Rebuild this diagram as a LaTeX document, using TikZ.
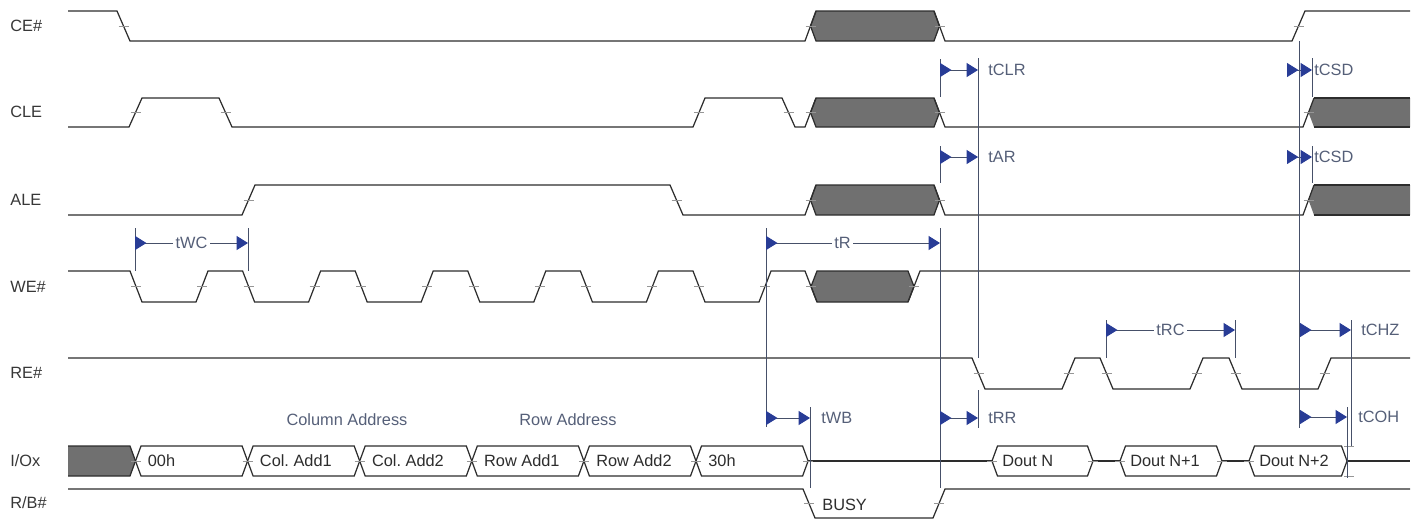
\documentclass[tikz,border=0pt]{standalone}
\usepackage{fontspec}
\setmainfont{Liberation Sans}
\usetikzlibrary{arrows.meta}
\definecolor{sigcol}{RGB}{45,45,45}
\definecolor{dcgray}{RGB}{112,112,112}
\definecolor{tcol}{RGB}{70,80,105}
\definecolor{tipcol}{RGB}{40,60,150}
\definecolor{namecol}{RGB}{55,55,55}
\definecolor{tlabcol}{RGB}{85,95,120}
\definecolor{tickcol}{RGB}{150,150,150}
\begin{document}
\begin{tikzpicture}[x=0.02cm,y=-0.02cm,font=\fontsize{9.3}{10}\selectfont\frenchspacing]
	\tikzset{sig/.style = {draw=sigcol,line width=0.7pt}}
	\tikzset{dontcare/.style = {fill=dcgray,draw=sigcol,line width=0.7pt}}
	\tikzset{bus/.style = {fill=white,draw=sigcol,line width=0.7pt}}
	\tikzset{tmark/.style = {draw=tcol,line width=0.5pt}}
	\tikzset{tarrow/.style = {tmark,{Triangle[reversed,length=6.5pt,width=8pt,color=tipcol]}-{Triangle[length=6.5pt,width=8pt,color=tipcol]}}}
	\tikzset{sname/.style = {anchor=west,text=namecol,inner sep=0pt}}
	\tikzset{tname/.style = {anchor=west,text=tlabcol,inner sep=0pt}}
	\tikzset{tmid/.style = {fill=white,text=tlabcol,inner sep=1.5pt}}
	\tikzset{ticky/.style = {draw=tickcol,line width=0.4pt}}
	\useasboundingbox (0,0) rectangle (1418,522);
	% signal names
	\node[sname] (ce)  at (10,26)  {CE\#};
	\node[sname] (cle) at (10,112) {CLE};
	\node[sname] (ale) at (10,200) {ALE};
	\node[sname] (we)  at (10,287) {WE\#};
	\node[sname] (re)  at (10,373) {RE\#};
	\node[sname] (io)  at (10,461) {I/Ox};
	\node[sname] (rb)  at (10,503) {R/B\#};
	% don't care boxes
	\foreach \yt/\yb in {11/41,98/127,185/215}
		\path[dontcare] (810.5,{(\yt+\yb)/2}) -- (816,\yt) -- (934,\yt) -- (939.5,{(\yt+\yb)/2}) -- (934,\yb) -- (816,\yb) -- cycle;
	\foreach \yt/\yb in {98/127,185/215} {
		\fill[dcgray] (1308.5,{(\yt+\yb)/2}) -- (1314,\yt) -- (1410,\yt) -- (1410,\yb) -- (1314,\yb) -- cycle;
		\draw[sig] (1410,\yt) -- (1314,\yt) (1314,\yb) -- (1410,\yb);
	}
	\path[dontcare] (811,286.5) -- (817,271) -- (908,271) -- (914,286.5) -- (908,302) -- (817,302) -- cycle;
	\fill[dcgray] (68,446) -- (130,446) -- (135.5,461) -- (130,476) -- (68,476) -- cycle;
	\draw[sig] (68,446) -- (130,446) -- (135.5,461) -- (130,476) -- (68,476);
	% waveforms
	\draw[sig] (68,11) -- (117,11) -- (130,41) -- (805,41) -- (816,11);
	\draw[sig] (934,11) -- (945,41) -- (1292,41) -- (1305,11) -- (1410,11);
	\draw[sig] (68,127) -- (129,127) -- (142,98) -- (219,98) -- (232,127) -- (693,127) -- (705,98) -- (782,98) -- (795,127) -- (805,127) -- (816,98);
	\draw[sig] (934,98) -- (945,127) -- (1303,127) -- (1314,98);
	\draw[sig] (68,215) -- (242,215) -- (255,185) -- (670,185) -- (683,215) -- (805,215) -- (816,185);
	\draw[sig] (934,185) -- (945,215) -- (1303,215) -- (1314,185);
	\draw[sig] (68,271) foreach \k in {0,...,5} { -- ({130+112.6*\k},271) -- ({142+112.6*\k},302) -- ({196+112.6*\k},302) -- ({208+112.6*\k},271) } -- (805,271) -- (817,302);
	\draw[sig] (908,302) -- (920,271) -- (1410,271);
	\draw[sig] (68,358) -- (972,358) -- (985,389) -- (1062,389) -- (1075,358) -- (1100,358) -- (1113,389) -- (1190,389) -- (1203,358) -- (1229,358) -- (1242,389) -- (1318,389) -- (1331,358) -- (1410,358);
	\draw[sig] (808,461) -- (1410,461);
	\foreach \k/\txt in {0/00h,1/Col. Add1,2/Col. Add2,3/Row Add1,4/Row Add2,5/30h} {
		\path[bus] ({135.5+112.1*\k},461) -- ({141+112.1*\k},446) -- ({242.1+112.1*\k},446) -- ({247.6+112.1*\k},461) -- ({242.1+112.1*\k},476) -- ({141+112.1*\k},476) -- cycle;
		\node[sname,text=sigcol] (d\k) at ({147.5+112.1*\k},461) {\txt};
	}
	\foreach \xa/\xb/\txt [count=\n] in {992/1093/Dout N,1120/1222/Dout N+1,1249/1347/Dout N+2} {
		\path[bus] (\xa,461) -- (\xa+5.5,446) -- (\xb-5.5,446) -- (\xb,461) -- (\xb-5.5,476) -- (\xa+5.5,476) -- cycle;
		\node[sname,text=sigcol] (dout\n) at (\xa+10,461) {\txt};
	}
	\draw[sig] (68,489) -- (803,489) -- (815,518) -- (933,518) -- (945,489) -- (1410,489);
	\node[sname,text=sigcol] (busy) at (822,505) {BUSY};
	\node[text=tlabcol] (coladdr) at (347,420) {Column Address};
	\node[text=tlabcol] (rowaddr) at (568,420) {Row Address};
	% transition ticks
	\foreach \x/\y in {123.5/26,810.5/26,939.5/26,1298.5/26,
		135.5/112.5,225.5/112.5,699/112.5,788.5/112.5,810.5/112.5,939.5/112.5,1308.5/112.5,
		248.5/200,676.5/200,810.5/200,939.5/200,1308.5/200,811/286.5,914/286.5,
		978.5/373.5,1068.5/373.5,1106.5/373.5,1196.5/373.5,1235.5/373.5,1324.5/373.5,
		992/461,1093/461,1120/461,1222/461,1249/461,1349/446,1349/476,809/503.5,939/503.5}
		\draw[ticky] (\x-5,\y) -- (\x+5,\y);
	\foreach \k in {0,...,5} {
		\draw[ticky] ({131+112.6*\k},286.5) -- ({141+112.6*\k},286.5);
		\draw[ticky] ({197+112.6*\k},286.5) -- ({207+112.6*\k},286.5);
	}
	\foreach \k in {0,...,6}
		\draw[ticky] ({130.5+112.1*\k},461) -- ({140.5+112.1*\k},461);
	% timing marks
	\draw[tmark] (135,228) -- (135,271);
	\draw[tmark] (248,228) -- (248,271);
	\draw[tmark] (766,228) -- (766,427);
	\draw[tmark] (940,228) -- (940,488);
	\draw[tmark] (940,59) -- (940,97);
	\draw[tmark] (940,146) -- (940,183);
	\draw[tmark] (978,58) -- (978,358);
	\draw[tmark] (978,390) -- (978,428);
	\draw[tmark] (810,407) -- (810,488);
	\draw[tmark] (1299,41) -- (1299,428);
	\draw[tmark] (1312,58) -- (1312,97);
	\draw[tmark] (1312,146) -- (1312,183);
	\draw[tmark] (1106,320) -- (1106,358);
	\draw[tmark] (1235,320) -- (1235,358);
	\draw[tmark] (1351,320) -- (1351,446);
	\draw[tmark] (1347,407) -- (1347,478);
	\coordinate (wcA) at (135,243);   \coordinate (wcB) at (248,243);
	\coordinate (rA) at (766,243);    \coordinate (rB) at (940,243);
	\coordinate (clrA) at (940,70);   \coordinate (clrB) at (978,70);
	\coordinate (arA) at (940,157);   \coordinate (arB) at (978,157);
	\coordinate (rrA) at (940,418);   \coordinate (rrB) at (978,418);
	\coordinate (wbA) at (766,418);   \coordinate (wbB) at (810,418);
	\coordinate (csdA) at (1287,70);  \coordinate (csdB) at (1312,70);
	\coordinate (csdC) at (1287,157); \coordinate (csdD) at (1312,157);
	\coordinate (rcA) at (1106,330);  \coordinate (rcB) at (1235,330);
	\coordinate (chzA) at (1300,330); \coordinate (chzB) at (1351,330);
	\coordinate (cohA) at (1300,417); \coordinate (cohB) at (1347,417);
	\draw[tarrow] (wcA) -- node[tmid] {tWC} (wcB);
	\draw[tarrow] (rA) -- node[tmid,pos=0.44] {tR} (rB);
	\draw[tarrow] (rcA) -- node[tmid] {tRC} (rcB);
	\draw[tarrow] (clrA) -- (clrB);
	\draw[tarrow] (arA) -- (arB);
	\draw[tarrow] (rrA) -- (rrB);
	\draw[tarrow] (wbA) -- (wbB);
	\draw[tarrow] (csdA) -- (csdB);
	\draw[tarrow] (csdC) -- (csdD);
	\draw[tarrow] (chzA) -- (chzB);
	\draw[tarrow] (cohA) -- (cohB);
	\node[tname] (tclr) at (988,70) {tCLR};
	\node[tname] (tar) at (988,157) {tAR};
	\node[tname] (trr) at (988,418) {tRR};
	\node[tname] (twb) at (821,418) {tWB};
	\node[tname] (tcsd1) at (1314,70) {tCSD};
	\node[tname] (tcsd2) at (1314,157) {tCSD};
	\node[tname] (tchz) at (1361,330) {tCHZ};
	\node[tname] (tcoh) at (1358,417) {tCOH};
\end{tikzpicture}
\end{document}
